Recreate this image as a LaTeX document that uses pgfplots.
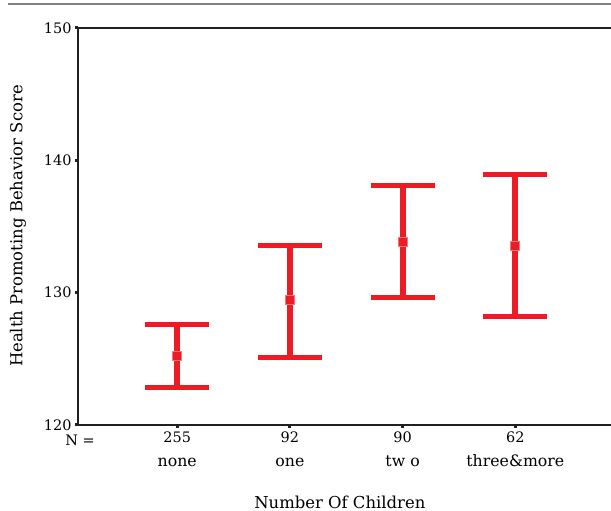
\documentclass[border=0pt]{standalone}
\usepackage{fontspec}
\setmainfont{DejaVu Serif}
\usepackage{pgfplots}
\pgfplotsset{compat=1.18}
\definecolor{barred}{RGB}{237,28,36}
\definecolor{axisdark}{RGB}{35,31,32}
\newcommand{\catname}[1]{{\fontsize{15.8}{24}\selectfont #1}}
\begin{document}
\begin{tikzpicture}[x=1bp,y=1bp]
% thin rule across the top of the figure
\draw[gray, line width=1.5bp] (8,507) -- (611,507);
\begin{axis}[
    at={(78bp,86bp)}, anchor=south west,
    scale only axis,
    width=536.5bp, height=397bp,
    xmin=0.12, xmax=4.88,
    ymin=120, ymax=150,
    axis x line*=box, axis y line*=left,
    axis line style={axisdark, line width=2bp},
    xtick={1,2,3,4},
    xticklabels={255\\\catname{none}, 92\\\catname{one}, 90\\\catname{tw o}, 62\\\catname{three\&more}},
    xtick pos=left,
    ytick={120,130,140,150},
    tick align=outside,
    major tick length=3bp,
    tick style={axisdark, line width=3bp},
    /pgf/number format/assume math mode=true,
    tick label style={font=\fontsize{14.5}{24}\selectfont},
    xticklabel style={align=center, anchor=north},
    xlabel={Number Of Children},
    ylabel={Health Promoting Behavior Score},
    label style={font=\fontsize{16.5}{20}\selectfont},
    xlabel style={at={(axis description cs:0.488,-0.194)}, anchor=center},
    ylabel style={at={(axis description cs:-0.112,0.501)}, anchor=center, rotate=0},
]
\addplot[
    only marks, barred,
    mark=square*, mark size=4.5bp,
    mark options={fill=barred, draw=barred!60!white, line width=1bp},
    error bars/.cd,
        y dir=both, y explicit,
        error bar style={line width=6bp, barred},
        error mark options={barred, line width=5bp, mark size=32bp, rotate=90},
] coordinates {
    (1,125.22) += (0,2.41) -= (0,2.40)
    (2,129.43) += (0,4.17) -= (0,4.31)
    (3,133.85) += (0,4.21) -= (0,4.20)
    (4,133.53) += (0,5.37) -= (0,5.34)
};
\end{axis}
\node[font=\fontsize{14.5}{18}\selectfont] at (80,71) {N =};
\pgfresetboundingbox
\path[use as bounding box] (0,0) rectangle (611,511);
\end{tikzpicture}
\end{document}
